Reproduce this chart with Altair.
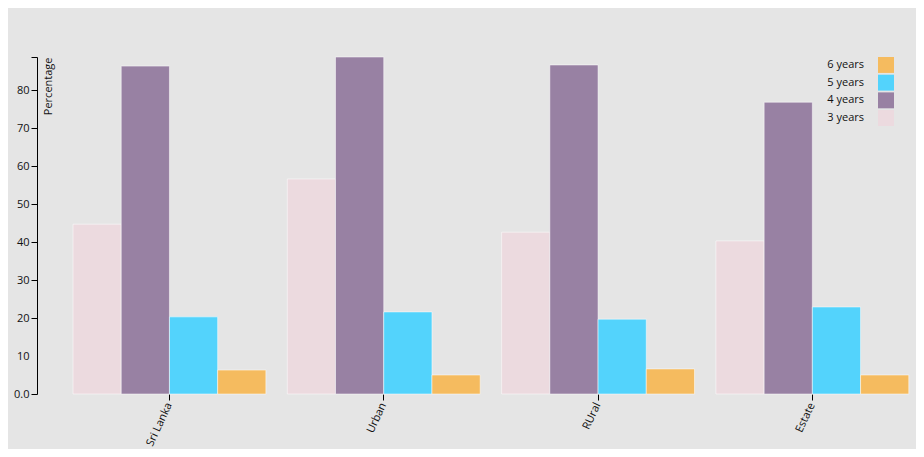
import altair as alt
import pandas as pd

regions = ["Sri Lanka", "Urban", "RUral", "Estate"]
series = ["3 years", "4 years", "5 years", "6 years"]
years3 = [44.7, 56.6, 42.6, 40.3]
years4 = [86.3, 88.7, 86.6, 76.8]
years5 = [20.3, 21.6, 19.7, 22.9]
years6 = [6.3, 5.0, 6.6, 5.0]
colors = ["#ecdadf", "#9881a3", "#53d3fc", "#f5bb5f"]
y_ticks = [0, 10, 20, 30, 40, 50, 60, 70, 80]

rows = []
for s, vals in zip(series, [years3, years4, years5, years6]):
    for r, v in zip(regions, vals):
        rows.append({"region": r, "series": s, "value": v})
df = pd.DataFrame(rows)

ymax = max(years4)
FONT = "Open Sans"

bars = alt.Chart(df).mark_bar(stroke="#ffffff", strokeWidth=1, strokeOpacity=0.5).encode(
    x=alt.X("region:N", sort=regions, title=None,
            scale=alt.Scale(range=[0, 907.8], paddingInner=0.1, paddingOuter=0.168),
            axis=alt.Axis(domain=False, labelAngle=-65, labelAlign="right", labelBaseline="middle",
                          tickColor="#000", tickSize=6, labelFont=FONT, labelFontSize=11,
                          labelColor="#111", labelPadding=3)),
    xOffset=alt.XOffset("series:N", sort=series, scale=alt.Scale(paddingInner=0, paddingOuter=0)),
    y=alt.Y("value:Q", scale=alt.Scale(domain=[0, ymax], nice=False, zero=True),
            axis=alt.Axis(values=y_ticks + [ymax], title="Percentage",
                          labelExpr="datum.value == 0 ? '0.0' : (datum.value > 85 ? '' : datum.label)",
                          tickOpacity={"condition": {"test": "datum.value < 15 && datum.value != 0", "value": 0}, "value": 1},
                          domainColor="#000", tickColor="#000", tickSize=6, grid=False,
                          labelFont=FONT, labelFontSize=11, labelColor="#111",
                          titleFont=FONT, titleFontSize=11, titleFontWeight="normal", titleColor="#111",
                          titleAngle=-90, titleX=14, titleY=0, titleAlign="right",
                          titleBaseline="alphabetic")),
    color=alt.Color("series:N", sort=series, scale=alt.Scale(domain=series, range=colors), legend=None),
)

leg_df = pd.DataFrame({"series": series, "color": colors})
legend_order = list(reversed(series))
leg_y = alt.Y("series:N", sort=legend_order, axis=None,
              scale=alt.Scale(domain=legend_order, range=[0, 69], paddingInner=0.1, paddingOuter=0))
leg_rect = alt.Chart(leg_df).mark_rect().encode(
    x=alt.value(841), x2=alt.value(857), y=leg_y,
    color=alt.Color("series:N", scale=alt.Scale(domain=series, range=colors), legend=None),
)
leg_text = alt.Chart(leg_df).mark_text(align="right", baseline="middle", font=FONT, fontSize=11,
                                       color="#111").encode(
    x=alt.value(827),
    y=alt.Y("series:N", sort=legend_order, axis=None, bandPosition=0.5,
            scale=alt.Scale(domain=legend_order, range=[0, 69], paddingInner=0.1, paddingOuter=0)),
    text="series:N",
)
legend = alt.layer(leg_rect, leg_text)

chart = alt.layer(bars, legend).resolve_scale(y="independent").properties(
    width=879, height=337,
    autosize=alt.AutoSizeParams(type="none"),
    padding={"left": 29, "top": 49, "right": 0, "bottom": 55},
    background="#e5e5e5",
).configure_view(stroke=None)

chart.save("out.html", embed_options={"renderer": "svg", "actions": False})
